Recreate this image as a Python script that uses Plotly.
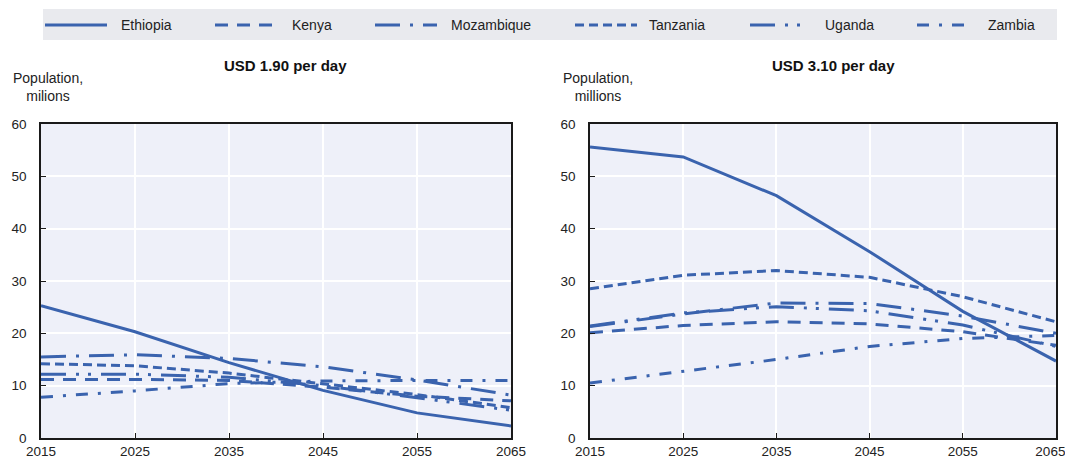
import plotly.graph_objects as go

years = [2015, 2025, 2035, 2045, 2055, 2065]
countries = ["Ethiopia", "Kenya", "Mozambique", "Tanzania", "Uganda", "Zambia"]

# USD 1.90 per day (population, millions)
eth_190 = [25.3, 20.3, 14.4, 9.1, 4.8, 2.3]
ken_190 = [11.2, 11.2, 11.0, 9.7, 8.0, 7.1]
moz_190 = [15.5, 15.9, 15.2, 13.6, 11.1, 8.2]
tan_190 = [14.2, 13.8, 12.4, 10.3, 8.3, 5.8]
uga_190 = [12.2, 12.2, 11.6, 10.0, 7.7, 5.3]
zam_190 = [7.8, 9.0, 10.4, 10.9, 11.0, 11.0]

# USD 3.10 per day (population, millions)
eth_310 = [55.6, 53.7, 46.3, 35.6, 24.2, 14.7]
ken_310 = [20.1, 21.5, 22.2, 21.8, 20.3, 17.7]
moz_310 = [21.3, 23.7, 25.8, 25.7, 23.3, 20.0]
tan_310 = [28.5, 31.1, 32.0, 30.7, 27.0, 22.2]
uga_310 = [21.4, 23.9, 25.1, 24.3, 21.6, 17.5]
zam_310 = [10.5, 12.8, 15.0, 17.5, 19.0, 19.6]

yticks = [0, 10, 20, 30, 40, 50, 60]
xticks = years
xticklabels = [str(y) for y in years]
# last label of the right panel is padded so it stays inside the window
xticklabels_right = xticklabels[:-1] + [xticklabels[-1] + "\u00a0\u00a0\u00a0"]

BLUE = "#3A63AE"
dashes = {
    "Ethiopia": "solid",
    "Kenya": "13px,9px",
    "Mozambique": "25px,10px,3px,10px",
    "Tanzania": "9px,5px",
    "Uganda": "25px,10px,3px,9px,3px,10px",
    "Zambia": "12px,10px,3px,10px",
}

left = dict(zip(countries, [eth_190, ken_190, moz_190, tan_190, uga_190, zam_190]))
right = dict(zip(countries, [eth_310, ken_310, moz_310, tan_310, uga_310, zam_310]))

# page body has an 8px margin; size the figure so it fills the window
OFF = 8
W, H = 1073 - OFF, 461 - OFF
fig = go.Figure()

for c in countries:
    fig.add_trace(go.Scatter(x=years, y=left[c], mode="lines", name=c, showlegend=False,
                             line=dict(color=BLUE, width=3, dash=dashes[c]),
                             xaxis="x", yaxis="y"))
    fig.add_trace(go.Scatter(x=years, y=right[c], mode="lines", name=c, showlegend=False,
                             line=dict(color=BLUE, width=3, dash=dashes[c]),
                             xaxis="x2", yaxis="y2"))

FONT = "Liberation Sans, Arial, sans-serif"

def px(x):
    return (x - OFF) / W

def py(y):
    return 1 - (y - OFF) / H

axis_common = dict(
    showline=True, linecolor="#1a1a1a", linewidth=1.5, mirror=True,
    showgrid=True, gridcolor="white", gridwidth=1.5,
    ticks="inside", ticklen=5, tickcolor="#1a1a1a", tickwidth=1,
    zeroline=False, automargin=False, ticklabeloverflow="allow",
    tickfont=dict(family=FONT, size=13.5, color="#222"),
)

fig.update_layout(
    template="none",
    width=W, height=H,
    margin=dict(l=0, r=0, t=0, b=0),
    paper_bgcolor="white",
    plot_bgcolor="#EEF0F9",
    showlegend=False,
    xaxis=dict(domain=[px(41), px(511)], range=[2015, 2065], tickvals=xticks,
               ticktext=xticklabels, anchor="y", **axis_common),
    yaxis=dict(domain=[py(438), py(124)], range=[0, 60], tickvals=yticks, anchor="x",
               ticklabelstandoff=10, **axis_common),
    xaxis2=dict(domain=[px(590), px(1056)], range=[2015, 2065], tickvals=xticks,
                ticktext=xticklabels_right, anchor="y2", **axis_common),
    yaxis2=dict(domain=[py(438), py(124)], range=[0, 60], tickvals=yticks, anchor="x2",
                ticklabelstandoff=10, **axis_common),
)

shapes = []
annotations = []

# legend bar
shapes.append(dict(type="rect", xref="paper", yref="paper",
                   x0=px(43), x1=px(1057), y0=py(40), y1=py(9),
                   fillcolor="#E9EAEE", line=dict(width=0), layer="below"))

legend_pos = [
    ("Ethiopia", 45, 107, 119),
    ("Kenya", 215, 277, 290),
    ("Mozambique", 375, 437, 449),
    ("Tanzania", 575, 637, 647),
    ("Uganda", 750, 807, 823),
    ("Zambia", 917, 970, 986),
]
ly = 25
for name, x0, x1, tx in legend_pos:
    shapes.append(dict(type="line", xref="paper", yref="paper",
                       x0=px(x0), x1=px(x1), y0=py(ly), y1=py(ly),
                       line=dict(color=BLUE, width=3, dash=dashes[name])))
    annotations.append(dict(text=name, xref="paper", yref="paper", x=px(tx), y=py(ly),
                            xanchor="left", yanchor="middle", showarrow=False,
                            font=dict(family=FONT, size=14, color="#222")))

# titles
annotations.append(dict(text="<b>USD 1.90 per day</b>", xref="paper", yref="paper",
                        x=px(285), y=py(66), xanchor="center", yanchor="middle",
                        showarrow=False, font=dict(family=FONT, size=15, color="#111")))
annotations.append(dict(text="<b>USD 3.10 per day</b>", xref="paper", yref="paper",
                        x=px(833), y=py(66), xanchor="center", yanchor="middle",
                        showarrow=False, font=dict(family=FONT, size=15, color="#111")))

# y axis titles
annotations.append(dict(text="Population,<br>milions", xref="paper", yref="paper",
                        x=px(48), y=py(87), xanchor="center", yanchor="middle",
                        showarrow=False, align="center",
                        font=dict(family=FONT, size=14, color="#222")))
annotations.append(dict(text="Population,<br>millions", xref="paper", yref="paper",
                        x=px(598), y=py(87), xanchor="center", yanchor="middle",
                        showarrow=False, align="center",
                        font=dict(family=FONT, size=14, color="#222")))

fig.update_layout(shapes=shapes, annotations=annotations)

fig.write_html("out.html")
